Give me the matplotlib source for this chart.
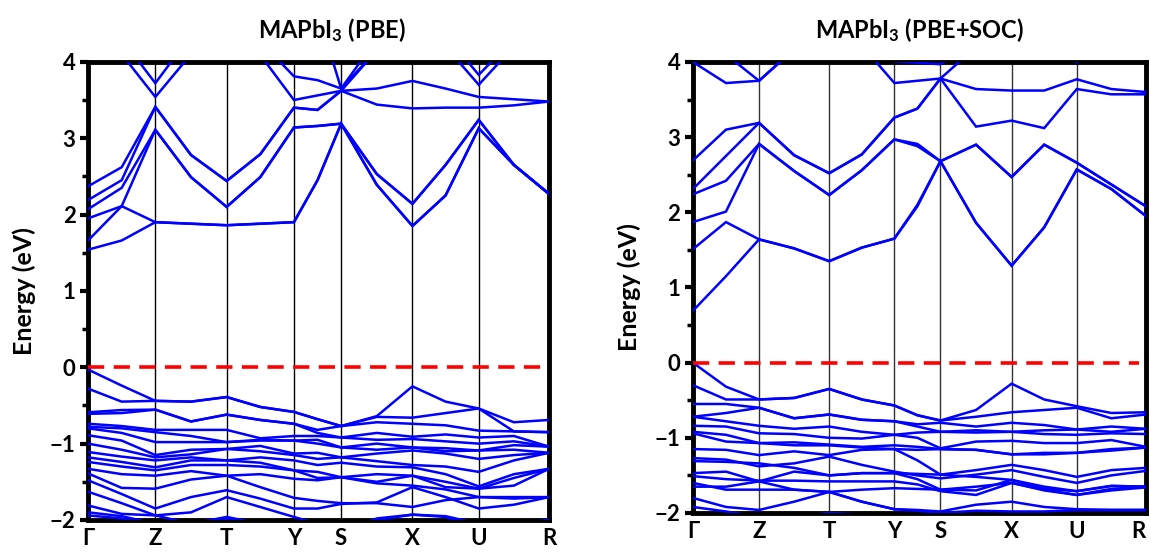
import numpy as np
import matplotlib
matplotlib.use('Agg')
import matplotlib.pyplot as plt
from matplotlib.ticker import MultipleLocator

# ---------------- data ----------------
kpath_labels = ['Γ', 'Z', 'T', 'Y', 'S', 'X', 'U', 'R']
# cumulative path length of the high-symmetry points (arbitrary units)
kpath_pbe = [0, 67, 138, 205, 252, 323, 389, 459]
kpath_soc = [0, 66, 136, 201, 247, 318, 383, 452]

# energies (eV) at Γ, mid, Z, mid, T, mid, Y, mid, S, mid, X, mid, U, mid, R
pbe_conduction = [
    [1.54, 1.66, 1.90, 1.88, 1.86, 1.88, 1.90, 2.45, 3.19, 2.39, 1.85, 2.25, 3.13, 2.65, 2.27],
    [1.95, 2.11, 1.90, 1.88, 1.86, 1.88, 1.90, 2.45, 3.19, 2.39, 1.85, 2.25, 3.13, 2.65, 2.27],
    [1.66, 2.11, 3.11, 2.49, 2.10, 2.49, 3.14, 3.16, 3.19, 2.53, 2.14, 2.65, 3.24, 2.65, 2.27],
    [2.07, 2.35, 3.11, 2.49, 2.10, 2.49, 3.14, 3.16, 3.19, 2.53, 2.14, 2.65, 3.24, 2.65, 2.27],
    [2.19, 2.45, 3.41, 2.78, 2.44, 2.79, 3.40, 3.37, 3.62, 3.44, 3.39, 3.40, 3.40, 3.43, 3.48],
    [2.37, 2.62, 3.41, 2.78, 2.44, 2.79, 3.40, 3.37, 3.62, 3.65, 3.75, 3.65, 3.54, 3.51, 3.48],
    [4.50, 4.10, 3.54, 4.10, 4.60, 4.09, 3.50, 3.56, 3.62, 4.15, 4.50, 4.20, 3.70, 4.20, 4.60],
    [4.80, 4.30, 3.72, 4.35, 4.80, 4.27, 3.81, 3.76, 3.65, 4.30, 4.70, 4.35, 3.83, 4.30, 4.70],
    [5.00, 5.00, 5.00, 5.00, 5.00, 5.00, 4.90, 4.66, 3.65, 4.15, 4.60, 5.00, 5.00, 5.00, 5.00],
]
pbe_valence = [
    [-0.03, -0.24, -0.44, -0.45, -0.39, -0.52, -0.585, -0.68, -0.77, -0.64, -0.25, -0.45, -0.54, -0.72, -0.69],
    [-0.28, -0.45, -0.44, -0.45, -0.39, -0.52, -0.585, -0.68, -0.77, -0.65, -0.66, -0.60, -0.54, -0.84, -0.85],
    [-0.59, -0.56, -0.555, -0.71, -0.62, -0.69, -0.74, -0.82, -0.77, -0.72, -0.74, -0.76, -0.83, -0.84, -0.85],
    [-0.61, -0.60, -0.555, -0.71, -0.62, -0.69, -0.74, -0.86, -0.92, -0.86, -0.91, -0.88, -0.92, -0.90, -1.04],
    [-0.74, -0.77, -0.82, -0.82, -0.82, -0.93, -0.90, -0.90, -0.92, -0.95, -0.94, -0.97, -1.00, -0.97, -1.04],
    [-0.78, -0.80, -0.85, -0.90, -0.98, -0.96, -0.96, -0.95, -1.05, -1.00, -1.05, -1.06, -1.09, -1.02, -1.04],
    [-0.80, -0.86, -0.98, -0.98, -0.98, -0.95, -0.96, -1.00, -1.05, -1.08, -1.05, -1.10, -1.09, -1.08, -1.12],
    [-0.89, -0.96, -1.15, -1.08, -1.07, -1.03, -1.13, -1.12, -1.18, -1.13, -1.09, -1.13, -1.20, -1.15, -1.12],
    [-1.00, -1.08, -1.18, -1.14, -1.07, -1.10, -1.15, -1.20, -1.18, -1.23, -1.28, -1.30, -1.37, -1.22, -1.12],
    [-1.11, -1.17, -1.22, -1.18, -1.22, -1.18, -1.22, -1.28, -1.25, -1.30, -1.31, -1.40, -1.56, -1.40, -1.33],
    [-1.18, -1.24, -1.31, -1.22, -1.22, -1.25, -1.35, -1.37, -1.44, -1.40, -1.42, -1.50, -1.59, -1.45, -1.33],
    [-1.24, -1.30, -1.35, -1.28, -1.28, -1.30, -1.35, -1.45, -1.44, -1.50, -1.42, -1.57, -1.59, -1.55, -1.33],
    [-1.33, -1.40, -1.42, -1.36, -1.42, -1.40, -1.46, -1.48, -1.44, -1.52, -1.55, -1.60, -1.70, -1.70, -1.70],
    [-1.39, -1.58, -1.59, -1.47, -1.42, -1.57, -1.71, -1.75, -1.78, -1.78, -1.83, -1.74, -1.70, -1.72, -1.70],
    [-1.48, -1.66, -1.85, -1.70, -1.61, -1.72, -1.85, -1.85, -1.79, -1.77, -1.57, -1.70, -1.85, -1.80, -1.70],
    [-1.63, -1.78, -1.94, -1.90, -1.70, -1.83, -1.96, -2.05, -2.10, -2.00, -1.93, -1.95, -2.05, -2.05, -2.00],
    [-1.81, -1.92, -1.94, -2.05, -1.96, -2.05, -2.10, -2.15, -2.15, -2.10, -2.05, -2.10, -2.15, -2.10, -2.05],
    [-1.90, -1.95, -2.05, -2.08, -1.99, -2.05, -2.10, -2.15, -2.15, -1.98, -1.93, -1.96, -2.12, -2.10, -2.05],
    [-1.94, -1.98, -2.10, -2.10, -2.10, -2.10, -2.10, -2.20, -2.20, -2.20, -2.10, -2.10, -2.20, -2.10, -2.00],
]
soc_conduction = [
    [0.69, 1.15, 1.64, 1.52, 1.35, 1.53, 1.65, 2.08, 2.68, 1.86, 1.29, 1.80, 2.57, 2.31, 1.95],
    [1.51, 1.87, 1.64, 1.52, 1.35, 1.53, 1.65, 2.10, 2.68, 2.90, 2.47, 2.90, 2.66, 2.37, 2.08],
    [1.87, 2.01, 2.91, 2.55, 2.23, 2.56, 2.97, 2.91, 2.68, 1.86, 1.29, 1.80, 2.57, 2.31, 1.95],
    [2.24, 2.42, 2.91, 2.55, 2.23, 2.56, 2.97, 2.88, 2.68, 2.90, 2.47, 2.90, 2.66, 2.37, 2.08],
    [2.31, 2.75, 3.19, 2.76, 2.52, 2.77, 3.26, 3.38, 3.78, 3.14, 3.22, 3.12, 3.64, 3.57, 3.57],
    [2.69, 3.10, 3.19, 2.76, 2.52, 2.77, 3.26, 3.38, 3.78, 3.64, 3.62, 3.62, 3.77, 3.64, 3.60],
    [4.00, 3.72, 3.75, 4.17, 4.60, 4.22, 3.72, 3.75, 3.78, 4.20, 4.50, 4.30, 4.00, 4.30, 4.50],
    [4.50, 4.10, 3.75, 4.17, 4.60, 4.50, 4.01, 3.99, 3.97, 4.30, 4.60, 4.40, 4.02, 4.40, 4.60],
]
soc_valence = [
    [0.00, -0.32, -0.49, -0.47, -0.35, -0.49, -0.57, -0.70, -0.77, -0.63, -0.28, -0.49, -0.58, -0.67, -0.66],
    [-0.30, -0.49, -0.49, -0.47, -0.35, -0.49, -0.57, -0.70, -0.77, -0.72, -0.66, -0.63, -0.60, -0.74, -0.69],
    [-0.55, -0.55, -0.60, -0.74, -0.69, -0.76, -0.78, -0.82, -0.80, -0.85, -0.80, -0.83, -0.89, -0.85, -0.88],
    [-0.72, -0.67, -0.60, -0.74, -0.69, -0.76, -0.78, -0.85, -0.92, -0.93, -0.92, -0.95, -0.96, -0.94, -0.95],
    [-0.72, -0.78, -0.84, -0.88, -0.85, -0.92, -0.96, -0.93, -0.92, -0.90, -0.92, -0.90, -0.89, -0.92, -0.88],
    [-0.84, -0.85, -0.94, -0.95, -1.00, -1.01, -0.96, -1.00, -1.14, -1.05, -1.04, -1.07, -1.07, -1.03, -1.12],
    [-0.92, -0.96, -1.07, -1.06, -1.09, -1.12, -1.10, -1.12, -1.15, -1.16, -1.22, -1.22, -1.20, -1.17, -1.13],
    [-0.94, -1.05, -1.07, -1.10, -1.10, -1.13, -1.15, -1.16, -1.15, -1.16, -1.22, -1.20, -1.20, -1.15, -1.13],
    [-1.15, -1.16, -1.23, -1.18, -1.23, -1.16, -1.15, -1.30, -1.49, -1.43, -1.36, -1.43, -1.52, -1.43, -1.40],
    [-1.27, -1.29, -1.38, -1.34, -1.25, -1.36, -1.45, -1.50, -1.54, -1.49, -1.43, -1.52, -1.60, -1.50, -1.44],
    [-1.31, -1.32, -1.34, -1.40, -1.50, -1.47, -1.47, -1.48, -1.49, -1.52, -1.56, -1.65, -1.71, -1.64, -1.65],
    [-1.47, -1.45, -1.58, -1.45, -1.50, -1.47, -1.47, -1.55, -1.69, -1.65, -1.60, -1.69, -1.76, -1.70, -1.66],
    [-1.51, -1.55, -1.57, -1.57, -1.58, -1.58, -1.58, -1.62, -1.71, -1.76, -1.60, -1.70, -1.76, -1.68, -1.65],
    [-1.60, -1.69, -1.69, -1.69, -1.72, -1.69, -1.67, -1.68, -1.69, -1.70, -1.56, -1.68, -1.71, -1.64, -1.65],
    [-1.65, -1.65, -1.58, -1.69, -1.72, -1.85, -1.95, -1.96, -1.98, -1.89, -1.85, -1.92, -1.95, -1.96, -1.96],
    [-1.80, -1.92, -1.96, -1.85, -1.72, -1.85, -1.95, -1.97, -2.00, -1.97, -1.98, -1.98, -1.96, -1.96, -1.96],
    [-1.92, -1.98, -2.05, -2.05, -2.00, -2.02, -2.05, -2.05, -2.05, -2.05, -2.05, -2.05, -2.05, -2.05, -2.05],
]
titles = [r'MAPbI$_\mathbf{3}$ (PBE)', r'MAPbI$_\mathbf{3}$ (PBE+SOC)']
ylabel = 'Energy (eV)'

# ---------------- style ----------------
plt.rcParams['font.family'] = ['Lato', 'DejaVu Sans']
plt.rcParams['font.weight'] = 'bold'
plt.rcParams['mathtext.fontset'] = 'custom'
plt.rcParams['mathtext.rm'] = 'Lato:bold'
plt.rcParams['mathtext.bf'] = 'Lato:bold'
plt.rcParams['mathtext.it'] = 'Lato:bold'


def full_k(kp):
    kp = np.asarray(kp, float) / kp[-1]
    pts = []
    for a, b in zip(kp[:-1], kp[1:]):
        pts += [a, (a + b) / 2]
    pts.append(kp[-1])
    return kp, np.array(pts)


fig = plt.figure(figsize=(11.51, 5.52), dpi=100)
axes_rects = [[0.0765, 0.058, 0.4005, 0.830], [0.602, 0.0707, 0.3936, 0.817]]
panels = [(kpath_pbe, pbe_conduction, pbe_valence), (kpath_soc, soc_conduction, soc_valence)]
title_x = [0.288, 0.799]
vline_colors = ['black', '#333333']

for i, (rect, (kp, cb, vb)) in enumerate(zip(axes_rects, panels)):
    ax = fig.add_axes(rect)
    hs, kk = full_k(kp)
    for band in cb + vb:
        ax.plot(kk, band, color='#0000ff', lw=1.8, solid_joinstyle='miter', zorder=3)
    for x in hs[1:-1]:
        ax.axvline(x, color=vline_colors[i], lw=1.0, zorder=2)
    ax.plot([0, 0.985], [0, 0], color='#ff0000', lw=2.6, ls=(0, (4.5, 2.6)), zorder=4)
    ax.set_xlim(0, 1)
    ax.set_ylim(-2, 4)
    ax.set_xticks(hs)
    ax.set_xticklabels(kpath_labels, fontsize=16, fontweight='bold')
    ax.tick_params(axis='x', length=0, pad=6)
    if i == 1:
        ax.get_xticklabels()[-1].set_horizontalalignment('right')
    ax.yaxis.set_major_locator(MultipleLocator(1))
    ax.yaxis.set_minor_locator(MultipleLocator(0.5))
    ax.tick_params(axis='y', which='major', direction='out', length=6, width=3, labelsize=16, pad=3)
    ax.tick_params(axis='y', which='minor', direction='out', length=4, width=2.5)
    for lab in ax.get_yticklabels():
        lab.set_fontweight('bold')
    for sp in ax.spines.values():
        sp.set_linewidth(3.5)
    ax.set_ylabel(ylabel, fontsize=18, fontweight='bold', labelpad=10)
    fig.text(title_x[i], 0.946, titles[i], fontsize=17, fontweight='bold',
             ha='center', va='center')

fig.savefig('out.png', dpi=100)
